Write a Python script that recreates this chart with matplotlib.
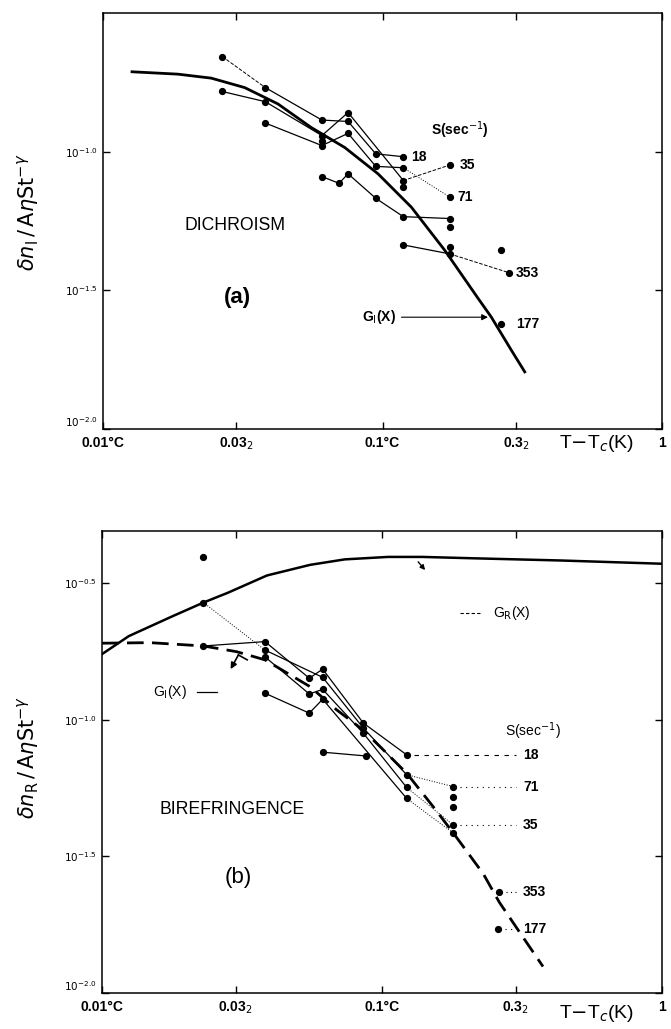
import matplotlib
matplotlib.use("Agg")
import matplotlib.pyplot as plt
from matplotlib.ticker import FixedLocator, NullLocator

plt.rcParams['font.family'] = ['Liberation Sans', 'DejaVu Sans']
plt.rcParams['mathtext.fontset'] = 'dejavusans'

W, H = 671, 1029

# ---------------- axis ticks ----------------
x_ticks = [0.01, 0.03, 0.1, 0.3, 1.0]
x_ticklabels = ['0.01°C', '0.03$_2$', '0.1°C', '0.3$_2$', '1']
ya_ticks = [0.01, 0.03162, 0.1]
ya_ticklabels = ['$10^{-2.0}$', '$10^{-1.5}$', '$10^{-1.0}$']
yb_ticks = [0.01, 0.03162, 0.1, 0.3162]
yb_ticklabels = ['$10^{-2.0}$', '$10^{-1.5}$', '$10^{-1.0}$', '$10^{-0.5}$']

# ---------------- panel (a): dichroism ----------------
a_GI_x = [0.0127, 0.01854, 0.0244, 0.03214, 0.04227, 0.05559, 0.07328,
          0.09638, 0.1268, 0.1671, 0.2198, 0.2449, 0.2891, 0.3228]
a_GI_y = [0.1941, 0.1903, 0.1841, 0.1702, 0.1486, 0.1222, 0.1035,
          0.0832, 0.0631, 0.04406, 0.02958, 0.02535, 0.01923, 0.01607]

a18_x = [0.0267, 0.0381, 0.0607, 0.0753, 0.0946, 0.1187]
a18_y = [0.2203, 0.1702, 0.1300, 0.1285, 0.0982, 0.0959]
a35_x = [0.0267, 0.0381, 0.0607, 0.0753, 0.1187, 0.1740]
a35_y = [0.1648, 0.1514, 0.1143, 0.1384, 0.0787, 0.0895]
a71_x = [0.0381, 0.0607, 0.0753, 0.0946, 0.1187, 0.1740]
a71_y = [0.1268, 0.1052, 0.1164, 0.0885, 0.0875, 0.0686]
a177_x = [0.0607, 0.0699, 0.0753, 0.0946, 0.1187, 0.1740]
a177_y = [0.0813, 0.0769, 0.0832, 0.0679, 0.0583, 0.0574]
a353_x = [0.1187, 0.1740, 0.2836]
a353_y = [0.0461, 0.0428, 0.0366]
a_extra_x = [0.0607, 0.1187, 0.1740, 0.1740, 0.2648, 0.2648]
a_extra_y = [0.1096, 0.0743, 0.0533, 0.0453, 0.0441, 0.0239]

# ---------------- panel (b): birefringence ----------------
b_GR_x = [0.0100, 0.01247, 0.01778, 0.02317, 0.02818, 0.03882, 0.05534,
          0.07362, 0.1050, 0.1393, 0.2133, 0.4345, 1.0]
b_GR_y = [0.1742, 0.2028, 0.2393, 0.2698, 0.2924, 0.3381, 0.3698,
          0.3873, 0.3954, 0.3954, 0.3908, 0.3837, 0.3733]
b_GI_x = [0.0100, 0.01483, 0.02301, 0.03027, 0.03819, 0.05534, 0.06887, 0.08570,
          0.1012, 0.1225, 0.1524, 0.1799, 0.2301, 0.2624, 0.3112, 0.3758]
b_GI_y = [0.1910, 0.1919, 0.1866, 0.1778, 0.1660, 0.1324, 0.1089, 0.0918,
          0.0776, 0.0638, 0.0481, 0.0385, 0.0273, 0.0215, 0.0166, 0.0125]

b18_x = [0.0230, 0.0382, 0.0550, 0.0614, 0.0857, 0.1225]
b18_y = [0.1866, 0.1936, 0.1422, 0.1535, 0.0975, 0.0745]
b71_x = [0.0230, 0.0382, 0.0614, 0.0857, 0.1225, 0.1799]
b71_y = [0.2692, 0.1803, 0.1432, 0.0935, 0.0630, 0.0570]
b35_x = [0.0382, 0.0550, 0.0614, 0.0857, 0.1225, 0.1799]
b35_y = [0.1702, 0.1245, 0.1294, 0.0895, 0.0566, 0.0412]
b353_x = [0.0382, 0.0550, 0.0614, 0.1225, 0.1799, 0.2624]
b353_y = [0.1253, 0.1059, 0.1191, 0.0516, 0.0385, 0.0235]
b177_x = [0.0614, 0.0877, 0.2600]
b177_y = [0.0762, 0.0738, 0.0171]
b_extra_x = [0.0230, 0.1799, 0.1799]
b_extra_y = [0.3963, 0.0524, 0.0481]

shear_labels = ['18', '35', '71', '177', '353']


# ---------------- helpers ----------------
def draw_series(ax, xs, ys, segs, lw=0.9):
    for i, st in enumerate(segs):
        if st == '':
            continue
        ax.plot(xs[i:i + 2], ys[i:i + 2], linestyle=st, color='black',
                lw=lw if st == '-' else 0.7)
    ax.plot(xs, ys, 'o', color='black', ms=4.2, mec='black')


def end_label(ax, x, y, text, dx=8):
    ax.annotate(text, xy=(x, y), xytext=(dx, 0), textcoords='offset pixels',
                ha='left', va='center', fontsize=10, fontweight='bold')


def style_axes(ax, yticks, yticklabels, ytop):
    ax.set_xscale('log')
    ax.set_yscale('log')
    ax.set_xlim(0.01, 1.0)
    ax.set_ylim(0.01, ytop)
    ax.xaxis.set_major_locator(FixedLocator(x_ticks))
    ax.xaxis.set_minor_locator(NullLocator())
    ax.yaxis.set_major_locator(FixedLocator(yticks))
    ax.yaxis.set_minor_locator(NullLocator())
    ax.set_xticklabels(x_ticklabels, fontsize=10, fontweight='bold')
    ylabs = ax.set_yticklabels(yticklabels, fontsize=7.5, fontweight='bold')
    ylabs[0].set_verticalalignment('bottom')
    ax.tick_params(direction='in', length=5, width=1, top=True, right=True,
                   pad=4)
    ax.tick_params(axis='x', pad=5)
    for s in ax.spines.values():
        s.set_linewidth(1.1)


def px(x, y):
    return x / W, 1 - y / H


fig = plt.figure(figsize=(W / 100, H / 100), dpi=100)

# ================= panel (a) =================
axa = fig.add_axes([103 / W, 1 - 429 / H, 559 / W, 416 / H])
style_axes(axa, ya_ticks, ya_ticklabels, 0.3162)

axa.plot(a_GI_x, a_GI_y, '-', color='black', lw=2.0)
draw_series(axa, a18_x, a18_y, ['--', '-', '-', '-', '-'])
draw_series(axa, a35_x, a35_y, ['-', '-', '-', '-', '--'])
draw_series(axa, a71_x, a71_y, ['-', '-', '-', '-', ':'])
draw_series(axa, a177_x, a177_y, ['-', '-', '-', '-', '-'])
draw_series(axa, a353_x, a353_y, ['-', '--'])
axa.plot(a_extra_x, a_extra_y, 'o', color='black', ms=4.2)

end_label(axa, a18_x[-1], a18_y[-1], shear_labels[0], dx=8)
end_label(axa, a35_x[-1], a35_y[-1], shear_labels[1], dx=10)
end_label(axa, a71_x[-1], a71_y[-1], shear_labels[2], dx=8)
end_label(axa, a_extra_x[-1], a_extra_y[-1], shear_labels[3], dx=15)
end_label(axa, a353_x[-1], a353_y[-1], shear_labels[4], dx=7)

axa.annotate('G$_{\\rm I}$(X)', xy=(0.2384, 0.0253), xytext=(0.1117, 0.0253),
             ha='right', va='center', fontsize=10, fontweight='bold',
             arrowprops=dict(arrowstyle='-|>', color='black', lw=0.8,
                             mutation_scale=9, shrinkA=2, shrinkB=0))

fig.text(*px(460, 130), 'S(sec$^{-1}$)', ha='center', va='center',
         fontsize=10, fontweight='bold')
fig.text(*px(235, 225), 'DICHROISM', ha='center', va='center', fontsize=12.7)
fig.text(*px(237, 297), '(a)', ha='center', va='center', fontsize=16,
         fontweight='bold')
fig.text(*px(597, 443), 'T$-$T$_c$(K)', ha='center', va='center', fontsize=14)
fig.text(*px(28, 212), '$\\delta n_{\\rm I}\\,/\\,{\\rm A}\\eta {\\rm St}^{-\\gamma}$',
         rotation=90, ha='center', va='center', fontsize=15)

# ================= panel (b) =================
axb = fig.add_axes([102 / W, 1 - 993 / H, 560 / W, 462 / H])
style_axes(axb, yb_ticks, yb_ticklabels, 0.4920)

axb.plot(b_GR_x, b_GR_y, '-', color='black', lw=1.8)
axb.plot(b_GI_x, b_GI_y, linestyle=(0, (6, 3)), color='black', lw=2.0)
draw_series(axb, b18_x, b18_y, ['-', '-', '-', '-', '-'])
draw_series(axb, b71_x, b71_y, [':', '-', '-', '-', ':'])
draw_series(axb, b35_x, b35_y, ['-', '-', '-', '-', ':'])
draw_series(axb, b353_x, b353_y, ['-', '-', '-', ':', ''])
draw_series(axb, b177_x, b177_y, ['-', ''])
axb.plot(b_extra_x, b_extra_y, 'o', color='black', ms=4.2)

# label leaders on the right of panel (b)
lab_x = 0.752   # axes fraction
lead_end = 0.300  # data x where leaders stop
trb = axb.get_yaxis_transform()
leaders = [(b18_x[-1], b18_y[-1], shear_labels[0], (0, (4, 5))),
           (b71_x[-1], b71_y[-1], shear_labels[2], (0, (1, 4))),
           (b35_x[-1], b35_y[-1], shear_labels[1], (0, (1, 4))),
           (b353_x[-1], b353_y[-1], shear_labels[4], (0, (1, 3))),
           (b177_x[-1], b177_y[-1], shear_labels[3], (0, (1, 4)))]
for xe, ye, txt, ls in leaders:
    axb.plot([xe * 1.06, lead_end], [ye, ye], linestyle=ls, color='black', lw=0.8)
    axb.text(lab_x, ye, txt, transform=trb, ha='left', va='center',
             fontsize=10, fontweight='bold')

axb.text(0.77, (993 - 731) / 462, 'S(sec$^{-1}$)', transform=axb.transAxes,
         ha='center', va='center', fontsize=10)
axb.plot([0.639, 0.675], [0.823, 0.823], transform=axb.transAxes,
         linestyle=(0, (3, 2)), color='black', lw=0.8)
axb.text(0.698, 0.823, 'G$_{\\rm R}$(X)', transform=axb.transAxes,
         ha='left', va='center', fontsize=10)
axb.text(0.121, 0.652, 'G$_{\\rm I}$(X)', transform=axb.transAxes,
         ha='center', va='center', fontsize=10)
axb.plot([0.170, 0.205], [0.652, 0.652], transform=axb.transAxes,
         color='black', lw=0.9)
axb.annotate('', xy=(0.0288, 0.1535), xytext=(0.0307, 0.1730),
             arrowprops=dict(arrowstyle='-|>', color='black', lw=1.2,
                             mutation_scale=9, shrinkA=0, shrinkB=0))
axb.plot([0.0307, 0.0330], [0.1730, 0.1660], color='black', lw=1.2)
axb.annotate('', xy=(0.1426, 0.3540), xytext=(0.1346, 0.3793),
             arrowprops=dict(arrowstyle='-|>', color='black', lw=1.0,
                             mutation_scale=7, shrinkA=0, shrinkB=0))

fig.text(*px(232, 810), 'BIREFRINGENCE', ha='center', va='center', fontsize=12.7)
fig.text(*px(238, 877), '(b)', ha='center', va='center', fontsize=16)
fig.text(*px(597, 1013), 'T$-$T$_c$(K)', ha='center', va='center', fontsize=14)
fig.text(*px(28, 757), '$\\delta n_{\\rm R}\\,/\\,{\\rm A}\\eta {\\rm St}^{-\\gamma}$',
         rotation=90, ha='center', va='center', fontsize=15)

fig.savefig('out.png', dpi=100)
